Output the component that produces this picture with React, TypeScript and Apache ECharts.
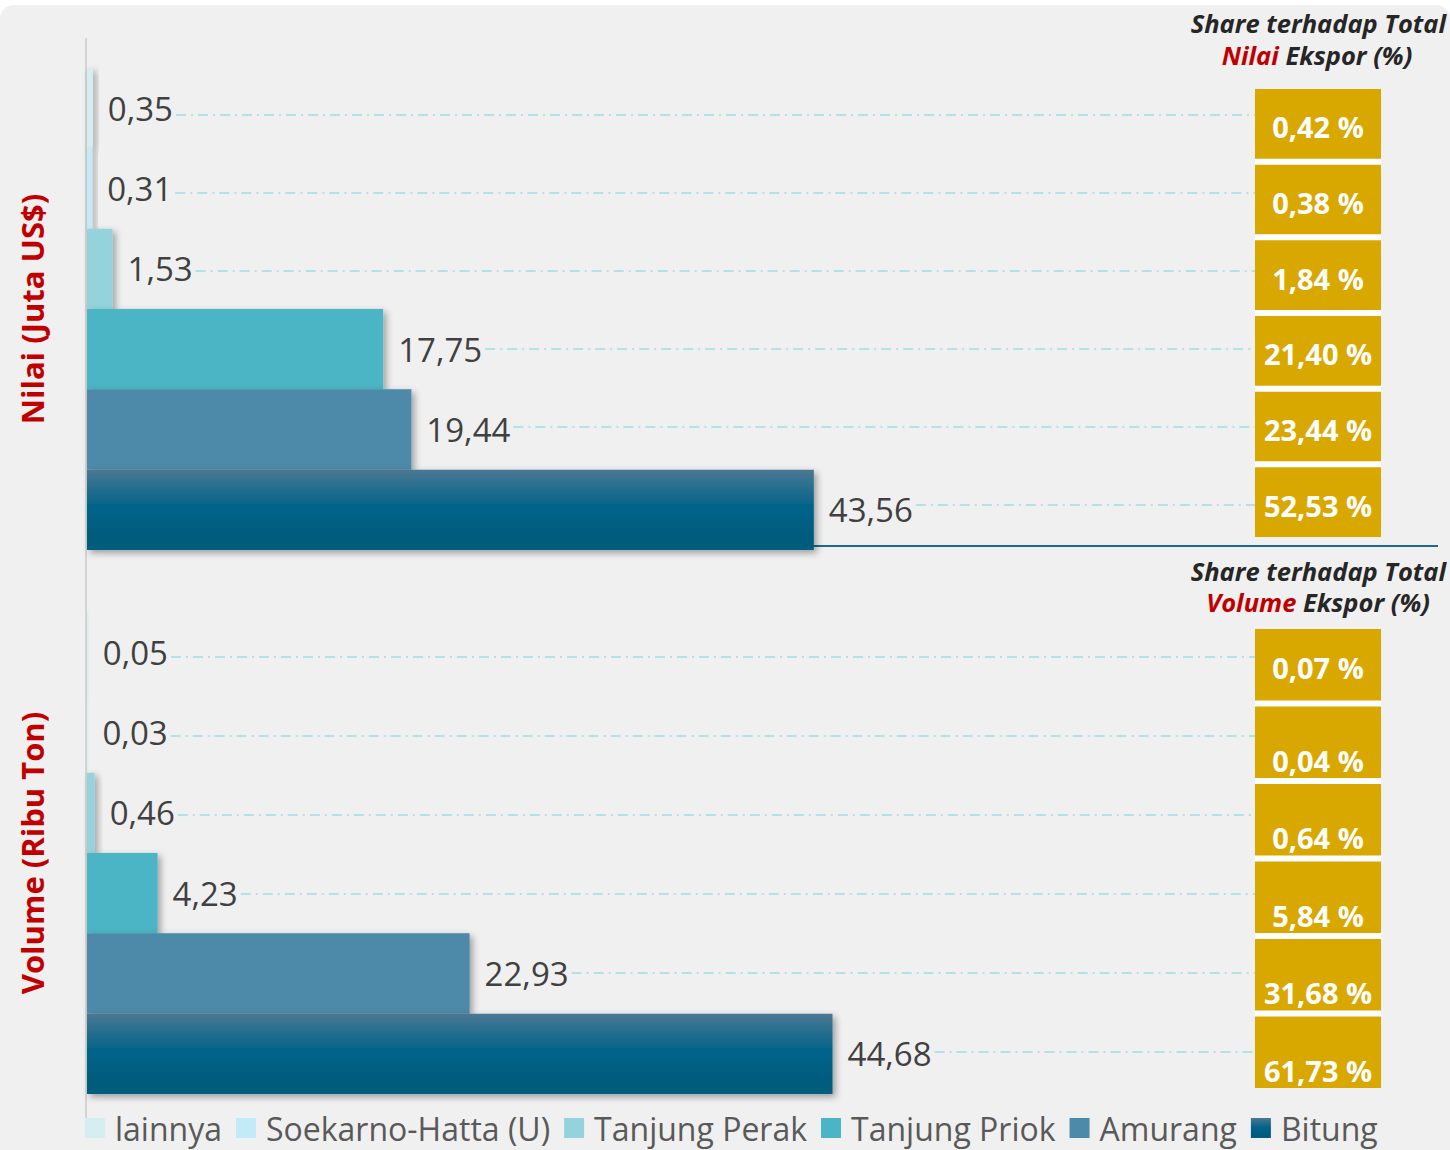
import React, { useEffect, useRef } from 'react';
import * as echarts from 'echarts';

// ---------- data ----------
const categories = ['lainnya', 'Soekarno-Hatta (U)', 'Tanjung Perak', 'Tanjung Priok', 'Amurang', 'Bitung'];
const nilaiValues = [0.35, 0.31, 1.53, 17.75, 19.44, 43.56];
const volumeValues = [0.05, 0.03, 0.46, 4.23, 22.93, 44.68];
const nilaiShares = [0.42, 0.38, 1.84, 21.4, 23.44, 52.53];
const volumeShares = [0.07, 0.04, 0.64, 5.84, 31.68, 61.73];
const nilaiAxisName = 'Nilai (Juta US$)';
const volumeAxisName = 'Volume (Ribu Ton)';

// ---------- style ----------
const FONT = '"Open Sans", "Noto Sans", sans-serif';
const LABEL_SIZE = 33;
const GOLD = '#d9a800';
const seriesColors: any[] = [
  '#d5eef2',
  '#c3ebf7',
  '#94d3dc',
  '#4bb5c5',
  '#4d89a8',
  new echarts.graphic.LinearGradient(0, 0, 0, 1, [
    { offset: 0, color: '#4a7893' },
    { offset: 0.45, color: '#03648a' },
    { offset: 0.92, color: '#005a7b' },
    { offset: 1, color: '#05617f' },
  ]),
];

const fmt = (v: number) => v.toFixed(2).replace('.', ',');

const PLOT_LEFT = 87;
const BOX_LEFT = 1255;
const BOX_W = 126;
const X_MAX = 70;

const TOP_GRID = { top: 68, height: 482 };
const BOT_GRID = { top: 612, height: 482 };
const TOP_BOX = { top: 86, height: 454 };
const BOT_BOX = { top: 626, height: 465 };
const BOX_GAP_PCT = 0.08;

function barSeries(values: number[], gridIdx: number) {
  return categories.map((name, i) => ({
    name,
    type: 'bar',
    xAxisIndex: gridIdx,
    yAxisIndex: gridIdx,
    barGap: '-100%',
    barCategoryGap: '0%',
    z: 3,
    itemStyle: {
      color: seriesColors[i],
      shadowColor: 'rgba(0,0,0,0.35)',
      shadowBlur: 7,
      shadowOffsetX: 3,
      shadowOffsetY: 3,
    },
    label: {
      show: true,
      position: 'right',
      distance: 15,
      color: '#404040',
      fontSize: LABEL_SIZE,
      fontFamily: FONT,
      formatter: (p: any) => fmt(p.value),
    },
    data: categories.map((_, j) => (j === i ? values[i] : '-')),
  }));
}

function boxSeries(shares: number[], gridIdx: number, bottomAligned: boolean) {
  return {
    type: 'bar',
    name: 'share' + gridIdx,
    xAxisIndex: gridIdx,
    yAxisIndex: gridIdx,
    barCategoryGap: BOX_GAP_PCT * 100 + '%',
    z: 3,
    itemStyle: { color: GOLD },
    label: {
      show: true,
      position: bottomAligned ? 'insideBottom' : 'inside',
      offset: bottomAligned ? [0, 0] : [0, 3],
      distance: 3,
      color: '#ffffff',
      fontWeight: 'bold',
      fontSize: 29,
      fontFamily: FONT,
      formatter: (p: any) => fmt(shares[p.dataIndex]) + ' %',
    },
    data: shares.map((_, i) =>
      bottomAligned && i === 0
        ? { value: 1, label: { position: 'inside', offset: [0, 3] } }
        : 1
    ),
  };
}

function buildOption(): any {
  const yCat = (name: string, gi: number) => ({
    type: 'category',
    gridIndex: gi,
    inverse: true,
    data: categories,
    axisLine: { show: false },
    axisTick: { show: false },
    axisLabel: { show: false },
    name,
    nameLocation: 'middle',
    nameRotate: 90,
    nameGap: 40,
    nameTextStyle: { color: '#c00000', fontWeight: 'bold', fontSize: 31, fontFamily: FONT },
  });
  const yBox = (gi: number) => ({
    type: 'category',
    gridIndex: gi,
    inverse: true,
    data: categories,
    show: false,
  });
  const xVal = (gi: number, max: number) => ({
    type: 'value',
    gridIndex: gi,
    min: 0,
    max,
    show: false,
    splitLine: { show: false },
  });
  return {
    animation: false,
    backgroundColor: '#ffffff',
    grid: [
      { left: PLOT_LEFT, width: BOX_LEFT - PLOT_LEFT, top: TOP_GRID.top, height: TOP_GRID.height },
      { left: PLOT_LEFT, width: BOX_LEFT - PLOT_LEFT, top: BOT_GRID.top, height: BOT_GRID.height },
      { left: BOX_LEFT, width: BOX_W, top: TOP_BOX.top, height: TOP_BOX.height },
      { left: BOX_LEFT, width: BOX_W, top: BOT_BOX.top, height: BOT_BOX.height },
    ],
    xAxis: [xVal(0, X_MAX), xVal(1, X_MAX), xVal(2, 1), xVal(3, 1)],
    yAxis: [yCat(nilaiAxisName, 0), yCat(volumeAxisName, 1), yBox(2), yBox(3)],
    legend: {
      data: categories,
      left: 80,
      top: 1106,
      icon: 'rect',
      itemWidth: 20,
      itemHeight: 20,
      itemGap: 14,
      textStyle: { color: '#595959', fontSize: 32, lineHeight: 34, fontFamily: FONT, padding: [0, 0, 0, 5] },
    },
    series: [
      ...barSeries(nilaiValues, 0),
      ...barSeries(volumeValues, 1),
      boxSeries(nilaiShares, 2, false),
      boxSeries(volumeShares, 3, true),
    ],
  };
}

function staticGraphics(): any[] {
  const titleFont = `italic bold 25.5px ${FONT}`;
  const gapTop = (TOP_BOX.height / 6) * BOX_GAP_PCT / 2;
  const gapBot = (BOT_BOX.height / 6) * BOX_GAP_PCT / 2;
  return [
    { type: 'rect', z: 0, shape: { x: 0, y: 5, width: 1450, height: 1160, r: 14 }, style: { fill: '#f0f0f0' } },
    { type: 'line', z: 1, shape: { x1: 86, y1: 38, x2: 86, y2: 1122 }, style: { stroke: '#d4d4d4', lineWidth: 2 } },
    { type: 'line', z: 1, shape: { x1: 87, y1: 546, x2: 1438, y2: 546 }, style: { stroke: '#1c6b89', lineWidth: 2 } },
    {
      type: 'rect', z: 1,
      shape: { x: BOX_LEFT, y: TOP_BOX.top + gapTop, width: BOX_W, height: TOP_BOX.height - 2 * gapTop },
      style: { fill: '#ffffff' },
    },
    {
      type: 'rect', z: 1,
      shape: { x: BOX_LEFT, y: BOT_BOX.top + gapBot, width: BOX_W, height: BOT_BOX.height - 2 * gapBot },
      style: { fill: '#ffffff' },
    },
    {
      type: 'text', z: 5, x: 1446, y: 23,
      style: { text: 'Share terhadap Total', font: titleFont, fill: '#262626', align: 'right', verticalAlign: 'middle' },
    },
    {
      type: 'text', z: 5, x: 1317, y: 55,
      style: {
        text: '{r|Nilai} Ekspor (%)', font: titleFont, fill: '#262626', align: 'center', verticalAlign: 'middle',
        rich: { r: { fill: '#c00000', font: titleFont } },
      },
    },
    {
      type: 'text', z: 5, x: 1446, y: 571,
      style: { text: 'Share terhadap Total', font: titleFont, fill: '#262626', align: 'right', verticalAlign: 'middle' },
    },
    {
      type: 'text', z: 5, x: 1318, y: 602,
      style: {
        text: '{r|Volume} Ekspor (%)', font: titleFont, fill: '#262626', align: 'center', verticalAlign: 'middle',
        rich: { r: { fill: '#c00000', font: titleFont } },
      },
    },
  ];
}

export default function App() {
  const ref = useRef<HTMLDivElement>(null);
  useEffect(() => {
    document.body.style.margin = '0';
    const chart = echarts.init(ref.current!, null, { renderer: 'svg' });
    chart.setOption(buildOption());

    const canvas = document.createElement('canvas');
    const ctx = canvas.getContext('2d')!;
    ctx.font = `${LABEL_SIZE}px ${FONT}`;
    const leaders: any[] = [];
    const panels: [number, number[], number][] = [
      [0, nilaiValues, 2],
      [1, volumeValues, 3],
    ];
    panels.forEach(([g, vals, bg]) => {
      vals.forEach((v, i) => {
        const pBar = chart.convertToPixel({ gridIndex: g } as any, [v, i]) as number[];
        const pBox = chart.convertToPixel({ gridIndex: bg } as any, [0, i]) as number[];
        const w = ctx.measureText(fmt(v)).width;
        const x1 = pBar[0] + 15 + w + 3;
        const y = Math.round((pBar[1] + pBox[1]) / 2) - 1;
        leaders.push({
          type: 'line',
          z: 2,
          shape: { x1, y1: y, x2: pBox[0], y2: y },
          style: { stroke: '#a0dae3', lineWidth: 1.5, lineDash: [10, 5, 2, 5] },
        });
      });
    });
    chart.setOption({ graphic: { elements: [...staticGraphics(), ...leaders] } });
    return () => chart.dispose();
  }, []);
  return <div ref={ref} style={{ width: 1450, height: 1150 }} />;
}
